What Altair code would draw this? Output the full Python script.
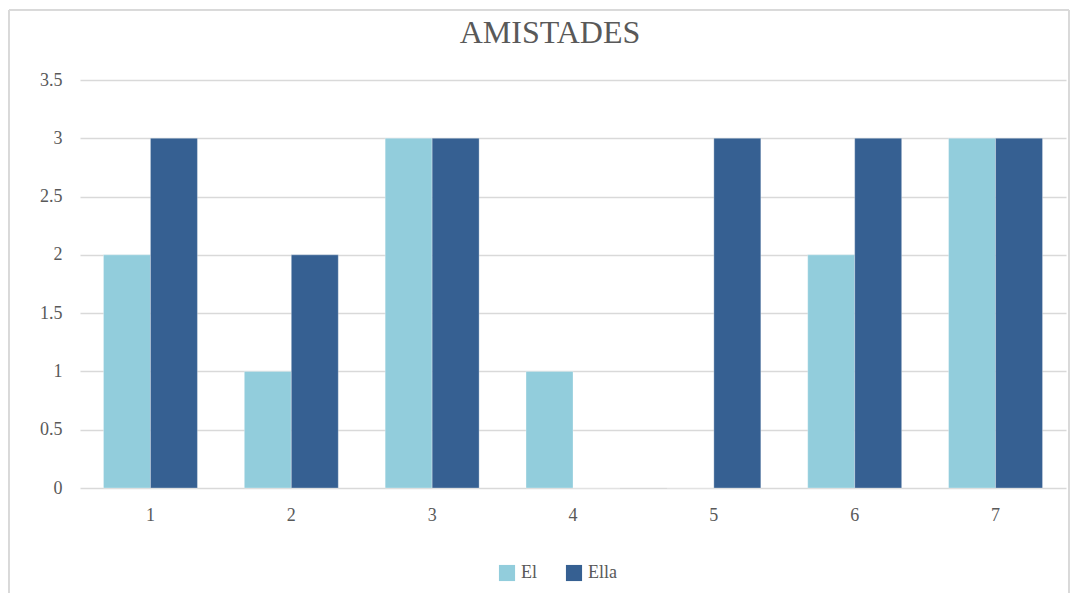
import altair as alt
import pandas as pd

categories = ["1", "2", "3", "4", "5", "6", "7"]
series_names = ["El", "Ella"]
el_values = [2, 1, 3, 1, 0, 2, 3]
ella_values = [3, 2, 3, 0, 3, 3, 3]
colors = ["#92CDDC", "#366092"]

rows = []
for c, v in zip(categories, el_values):
    rows.append({"cat": c, "serie": "El", "valor": v})
for c, v in zip(categories, ella_values):
    rows.append({"cat": c, "serie": "Ella", "valor": v})
df = pd.DataFrame(rows)

W, H = 986, 408
font = "Liberation Serif"

bars = alt.Chart(df).mark_bar(stroke="#ffffff", strokeWidth=0.3).encode(
    x=alt.X("cat:N", sort=categories, title=None,
            scale=alt.Scale(paddingInner=0.333, paddingOuter=0.1667),
            axis=alt.Axis(labelAngle=0, labelFontSize=18, labelColor="#595959",
                          labelFont=font, domain=False, ticks=False, labelPadding=18)),
    xOffset=alt.XOffset("serie:N", sort=series_names),
    y=alt.Y("valor:Q", title=None,
            scale=alt.Scale(domain=[0, 3.5]),
            axis=alt.Axis(values=[0, 0.5, 1, 1.5, 2, 2.5, 3, 3.5], format="~g",
                          labelFontSize=18, labelColor="#595959", labelFont=font,
                          domain=False, ticks=False, labelPadding=18,
                          gridColor="#d9d9d9", gridWidth=1.5)),
    color=alt.Color("serie:N", sort=series_names,
                    scale=alt.Scale(domain=series_names, range=colors),
                    legend=alt.Legend(title=None, orient="none", direction="horizontal",
                                      legendX=W / 2 - 75, legendY=H + 76,
                                      symbolType="square", symbolSize=260,
                                      symbolStrokeWidth=0,
                                      labelFontSize=18, labelColor="#595959",
                                      labelFont=font, columnPadding=28, labelOffset=5)),
)

border = alt.Chart(df).mark_rect(fill=None, stroke="#d9d9d9", strokeWidth=1).encode(
    x=alt.value(-71), x2=alt.value(W + 3), y=alt.value(-70), y2=alt.value(H + 120)
)

chart = alt.layer(border, bars).properties(
    width=W, height=H,
    padding={"left": 72, "top": 72, "right": 4, "bottom": 105},
    autosize=alt.AutoSizeParams(type="none"),
    title=alt.TitleParams("AMISTADES", fontSize=32, font=font, color="#595959",
                          fontWeight="normal", anchor="middle", offset=-40, dx=-23),
).configure_view(stroke=None)

chart.save("out.html", embed_options={"renderer": "svg", "actions": False})
